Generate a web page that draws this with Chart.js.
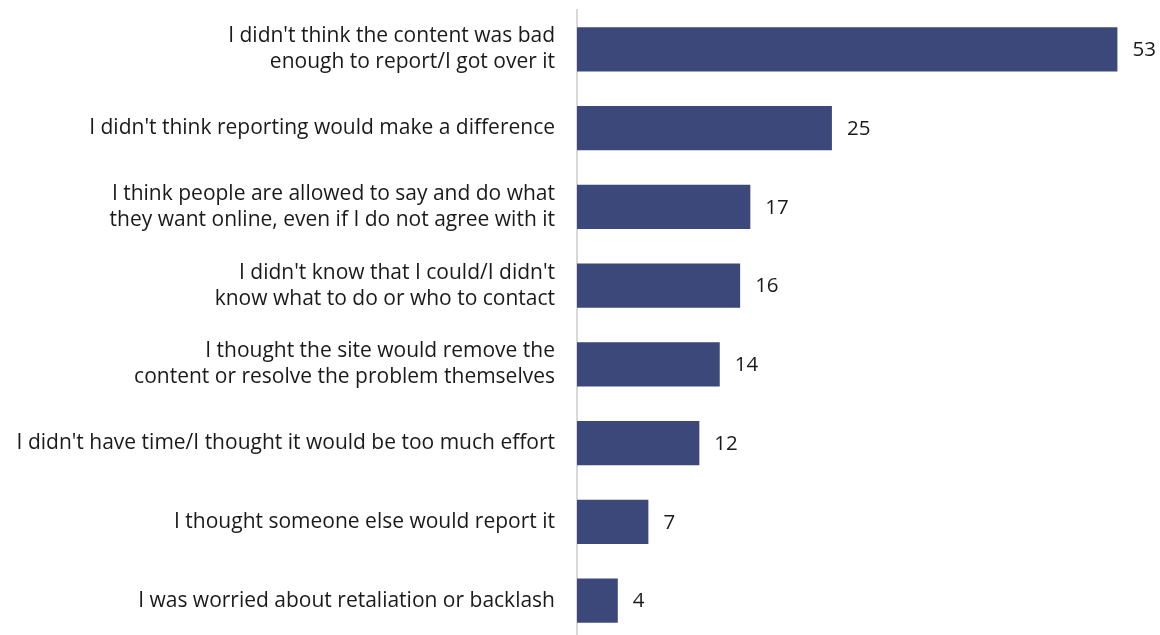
<!DOCTYPE html>
<html>
<head>
<meta charset="utf-8">
<script src="https://cdn.jsdelivr.net/npm/chart.js@4"></script>
<style>
  html, body { margin: 0; padding: 0; background: #fff; overflow: hidden; }
  #wrap { width: 1160px; height: 645px; }
</style>
</head>
<body>
<div id="wrap"><canvas id="reasonsChart"></canvas></div>
<script>
// reasons for not reporting, % of respondents
const reasons = [
    ["I didn't think the content was bad", "enough to report/I got over it"],
    "I didn't think reporting would make a difference",
    ["I think people are allowed to say and do what", "they want online, even if I do not agree with it"],
    ["I didn't know that I could/I didn't", "know what to do or who to contact"],
    ["I thought the site would remove the", "content or resolve the problem themselves"],
    "I didn't have time/I thought it would be too much effort",
    "I thought someone else would report it",
    "I was worried about retaliation or backlash"
];
const percents = [53, 25, 17, 16, 14, 12, 7, 4];

const barColor = '#3c4879';
const fontFamily = '"Open Sans", Lato, sans-serif';
const fontSize = 21;

// draws the number just past the end of each bar
const valueLabels = {
    id: 'valueLabels',
    afterDatasetsDraw(chart) {
        const ctx = chart.ctx;
        const meta = chart.getDatasetMeta(0);
        ctx.save();
        ctx.font = (fontSize - 0.5) + 'px ' + fontFamily;
        ctx.fillStyle = '#1a1a1a';
        ctx.textAlign = 'left';
        ctx.textBaseline = 'middle';
        meta.data.forEach((bar, i) => {
            ctx.fillText(percents[i], bar.x + 15, bar.y + 1);
        });
        ctx.restore();
    }
};

const ctx = document.getElementById('reasonsChart');

new Chart(ctx, {
    type: 'bar',
    data: {
        labels: reasons,
        datasets: [{
            data: percents,
            backgroundColor: barColor,
            borderWidth: 0,
            barPercentage: 0.56,
            categoryPercentage: 1
        }]
    },
    options: {
        indexAxis: 'y',
        responsive: true,
        maintainAspectRatio: false,
        animation: false,
        layout: {
            padding: { top: 10, bottom: 5, right: 12, left: 0 }
        },
        plugins: {
            legend: { display: false },
            tooltip: { enabled: false }
        },
        scales: {
            x: {
                display: false,
                min: 0,
                max: 56
            },
            y: {
                afterFit: scale => {
                    // fixed label column, no extra room for half labels at the ends
                    scale.width = 577;
                    scale.paddingTop = 0;
                    scale.paddingBottom = 0;
                },
                grid: { display: false, drawTicks: false },
                border: { display: true, color: '#d9d9d9', width: 2 },
                ticks: {
                    padding: 22,
                    color: '#1a1a1a',
                    font: { family: fontFamily, size: fontSize, lineHeight: 1.24 }
                }
            }
        }
    },
    plugins: [valueLabels]
});
</script>
</body>
</html>
